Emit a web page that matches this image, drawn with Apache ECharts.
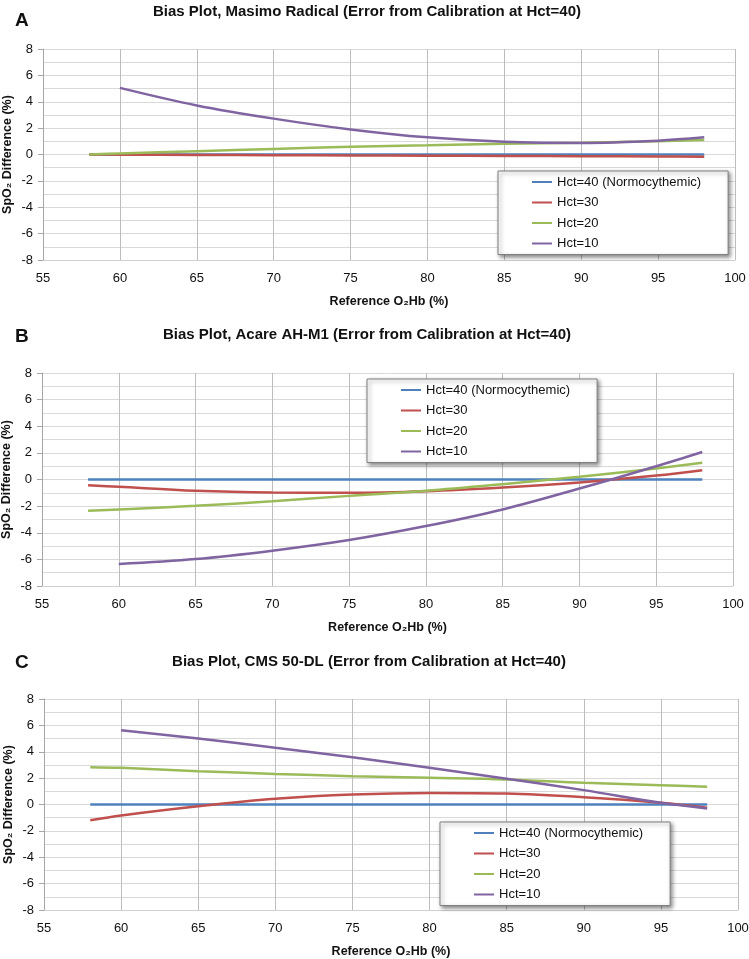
<!DOCTYPE html>
<html>
<head>
<meta charset="utf-8">
<script src="https://cdn.jsdelivr.net/npm/echarts@6/dist/echarts.min.js"></script>
<style>
html,body{margin:0;padding:0;background:#fff;}
#chart{width:749px;height:959px;}
</style>
</head>
<body>
<div id="chart"></div>
<script>
// ---- data ----
const seriesNames = ['Hct=40 (Normocythemic)', 'Hct=30', 'Hct=20', 'Hct=10'];
const panelLetters = ['A', 'B', 'C'];
const panelTitles = [
  'Bias Plot, Masimo Radical (Error from Calibration at Hct=40)',
  'Bias Plot, Acare AH-M1 (Error from Calibration at Hct=40)',
  'Bias Plot, CMS 50-DL (Error from Calibration at Hct=40)'
];
const xFull = [58, 60, 65, 70, 75, 80, 85, 90, 95, 98];   // Hct=40, 30, 20
const xHct10 = [60, 65, 70, 75, 80, 85, 90, 95, 98];      // Hct=10

// Panel A: Masimo Radical
const a40 = [0, 0, 0, 0, 0, 0, 0, 0, 0, 0];
const a30 = [0, -0.01, -0.03, -0.05, -0.07, -0.09, -0.11, -0.13, -0.15, -0.17];
const a20 = [0.0, 0.08, 0.25, 0.42, 0.58, 0.7, 0.82, 0.9, 1.0, 1.1];
const a10 = [5.05, 3.72, 2.72, 1.9, 1.3, 0.97, 0.88, 1.05, 1.3];

// Panel B: Acare AH-M1
const b40 = [0, 0, 0, 0, 0, 0, 0, 0, 0, 0];
const b30 = [-0.43, -0.55, -0.85, -0.98, -1.0, -0.88, -0.6, -0.22, 0.3, 0.7];
const b20 = [-2.35, -2.25, -1.98, -1.63, -1.23, -0.85, -0.35, 0.2, 0.83, 1.25];
const b10 = [-6.35, -5.98, -5.35, -4.55, -3.5, -2.25, -0.68, 1.0, 2.07];

// Panel C: CMS 50-DL
const c40 = [0, 0, 0, 0, 0, 0, 0, 0, 0, 0];
const c30 = [-1.2, -0.83, -0.13, 0.43, 0.76, 0.88, 0.83, 0.55, 0.13, -0.25];
const c20 = [2.83, 2.78, 2.53, 2.32, 2.15, 2.03, 1.9, 1.64, 1.46, 1.34];
const c10 = [5.63, 5.0, 4.3, 3.58, 2.78, 1.95, 1.09, 0.13, -0.3];

const xTicks = [55, 60, 65, 70, 75, 80, 85, 90, 95, 100];
const yTicks = [-8, -6, -4, -2, 0, 2, 4, 6, 8];

// ---- layout / styles ----
const colors = ['#4F81BD', '#C0504D', '#9BBB59', '#8064A2'];
const FONT = 'Liberation Sans, Arial, sans-serif';
const grids = [
  {left: 43, top: 49, width: 692, height: 211, outerBoundsMode: 'none', containLabel: false},
  {left: 42, top: 373, width: 691, height: 213, outerBoundsMode: 'none', containLabel: false},
  {left: 44, top: 699, width: 694, height: 211, outerBoundsMode: 'none', containLabel: false}
];
const titleTops = [4, 327, 654];
const titleCenters = [367, 367, 369];
const letterTops = [11, 327, 653];
const legendPos = [
  {left: 498, top: 171},
  {left: 367, top: 379},
  {left: 440, top: 822}
];
const panels = [[a40, a30, a20, a10], [b40, b30, b20, b10], [c40, c30, c20, c10]];

function pairs(xs, ys) { return ys.map((v, i) => [xs[i], v]); }

const option = {
  animation: false,
  backgroundColor: '#fff',
  textStyle: {fontFamily: FONT},
  title: [],
  grid: grids,
  xAxis: [],
  yAxis: [],
  legend: [],
  series: []
};

panels.forEach((p, gi) => {
  option.title.push({
    text: panelTitles[gi], left: titleCenters[gi], textAlign: 'center', top: titleTops[gi], padding: 0,
    textStyle: {fontSize: 15, fontWeight: 'bold', color: '#111', fontFamily: FONT}
  });
  option.title.push({
    text: panelLetters[gi], left: 15, top: letterTops[gi], padding: 0,
    textStyle: {fontSize: 19, fontWeight: 'bold', color: '#111', fontFamily: FONT}
  });
  option.xAxis.push({
    type: 'value', gridIndex: gi, min: xTicks[0], max: xTicks[xTicks.length - 1], interval: 5,
    name: 'Reference O\u2082Hb (%)', nameLocation: 'middle', nameGap: 35, nameMoveOverlap: false,
    nameTextStyle: {fontSize: 12.5, fontWeight: 'bold', color: '#111'},
    axisLine: {show: true, onZero: false, lineStyle: {color: '#d0d0d0', width: 1}},
    axisTick: {show: false},
    axisLabel: {fontSize: 13, color: '#111', margin: 12},
    splitLine: {show: true, lineStyle: {color: '#bdbdbd', width: 1}}
  });
  option.yAxis.push({
    type: 'value', gridIndex: gi, min: yTicks[0], max: yTicks[yTicks.length - 1], interval: 2,
    name: 'SpO\u2082 Difference (%)', nameLocation: 'middle', nameGap: 29, nameMoveOverlap: false,
    nameTextStyle: {fontSize: 12.5, fontWeight: 'bold', color: '#111'},
    axisLine: {show: true, lineStyle: {color: '#a6a6a6', width: 1}},
    axisTick: {show: true, length: 5, lineStyle: {color: '#a6a6a6'}},
    axisLabel: {fontSize: 13, color: '#111', margin: 10},
    splitLine: {show: true, lineStyle: {color: '#d9d9d9', width: 1}},
    minorTick: {show: false, splitNumber: 2},
    minorSplitLine: {show: true, lineStyle: {color: '#d9d9d9', width: 1}}
  });
  option.legend.push({
    orient: 'vertical', left: legendPos[gi].left, top: legendPos[gi].top,
    data: seriesNames, icon: 'rect', itemWidth: 20, itemHeight: 2, itemGap: 6.5,
    padding: [4, 27, 4, 34],
    backgroundColor: '#fff', borderColor: '#7f7f7f', borderWidth: 1,
    shadowBlur: 4, shadowOffsetX: 2, shadowOffsetY: 2, shadowColor: 'rgba(0,0,0,0.45)',
    textStyle: {fontSize: 13, color: '#111', lineHeight: 14},
    selectedMode: false
  });
  p.forEach((ys, si) => {
    const xs = si === 3 ? xHct10 : xFull;
    option.series.push({
      type: 'line', name: seriesNames[si], xAxisIndex: gi, yAxisIndex: gi,
      data: pairs(xs, ys), smooth: 0.35, symbol: 'none', z: 2 + si,
      lineStyle: {color: colors[si], width: 2.5}, itemStyle: {color: colors[si]}
    });
  });
});

const chart = echarts.init(document.getElementById('chart'), null, {renderer: 'canvas'});
chart.setOption(option);
</script>
</body>
</html>
